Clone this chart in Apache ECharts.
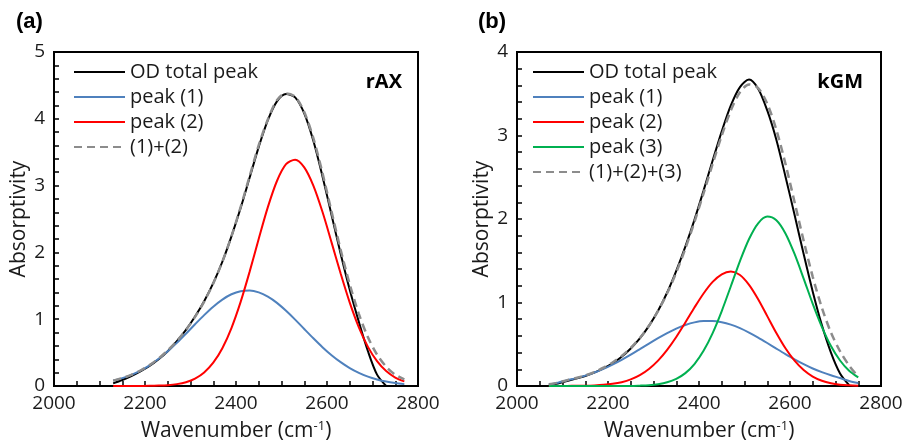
<!DOCTYPE html>
<html>
<head>
<meta charset="utf-8">
<script src="https://cdn.jsdelivr.net/npm/echarts@6/dist/echarts.min.js"></script>
<style>
  html, body { margin: 0; padding: 0; background: #fff; }
  #chart { width: 904px; height: 441px; }
</style>
</head>
<body>
<div id="chart"></div>
<script>
// panel (a) rAX
var wnA = [2130,2150,2170,2190,2210,2230,2250,2270,2290,2310,2330,2350,2370,2390,2410,2430,2450,2470,2490,2510,2530,2550,2570,2590,2610,2630,2650,2670,2690,2710,2730,2750,2770];
var totalA = [0.04,0.09,0.15,0.22,0.30,0.40,0.52,0.67,0.84,1.04,1.27,1.54,1.86,2.24,2.66,3.12,3.58,3.98,4.26,4.37,4.32,4.08,3.67,3.14,2.56,1.98,1.44,0.96,0.52,0.17,0,null,null];
var peak1A = [0.081,0.118,0.167,0.231,0.310,0.407,0.520,0.646,0.783,0.924,1.061,1.187,1.294,1.373,1.419,1.429,1.401,1.337,1.244,1.126,0.994,0.853,0.714,0.581,0.461,0.357,0.268,0.197,0.140,0.098,0.066,0.044,0.028];
var peak2A = [0,0,0,0.001,0.002,0.006,0.013,0.028,0.057,0.111,0.203,0.349,0.566,0.868,1.255,1.712,2.205,2.678,3.069,3.320,3.388,3.273,3.000,2.608,2.150,1.683,1.248,0.878,0.586,0.371,0.223,0.127,0.069];
var sumA = [0.081,0.118,0.167,0.232,0.312,0.413,0.533,0.674,0.840,1.035,1.264,1.536,1.860,2.241,2.674,3.141,3.606,3.99,4.28,4.38,4.33,4.10,3.71,3.19,2.61,2.04,1.52,1.08,0.73,0.47,0.29,0.17,0.10];

// panel (b) kGM
var wnB = [2070,2090,2110,2130,2150,2170,2190,2210,2230,2250,2270,2290,2310,2330,2350,2370,2390,2410,2430,2450,2470,2490,2510,2530,2550,2570,2590,2610,2630,2650,2670,2690,2710,2730,2750];
var totalB = [0.01,0.03,0.06,0.09,0.12,0.16,0.21,0.27,0.35,0.45,0.57,0.72,0.90,1.12,1.38,1.67,1.99,2.34,2.70,3.05,3.36,3.58,3.67,3.56,3.30,2.95,2.51,2.05,1.58,1.13,0.73,0.40,0.15,0.01,null];
var peak1B = [0.02,0.04,0.069,0.094,0.124,0.161,0.205,0.256,0.313,0.375,0.441,0.508,0.573,0.634,0.688,0.731,0.762,0.778,0.778,0.764,0.735,0.693,0.640,0.580,0.515,0.448,0.382,0.319,0.262,0.210,0.166,0.128,0.095,0.060,0.035];
var peak2B = [0,0,0.001,0.002,0.003,0.007,0.014,0.026,0.046,0.079,0.130,0.204,0.304,0.433,0.587,0.761,0.940,1.108,1.247,1.338,1.370,1.329,1.211,1.039,0.837,0.635,0.452,0.303,0.191,0.113,0.063,0.033,0.016,0.008,0.003];
var peak3B = [0,0,0,0,0,0,0,0,0,0,0.004,0.010,0.022,0.044,0.085,0.154,0.263,0.421,0.634,0.898,1.195,1.496,1.761,1.949,2.029,1.985,1.827,1.581,1.287,0.984,0.709,0.479,0.305,0.182,0.103];
var sumB = [0.02,0.04,0.07,0.096,0.127,0.168,0.219,0.282,0.359,0.455,0.575,0.722,0.899,1.111,1.360,1.646,1.965,2.307,2.659,3.000,3.300,3.518,3.612,3.568,3.381,3.068,2.661,2.203,1.740,1.307,0.938,0.640,0.416,0.245,0.110];

var xTicks = [2000, 2800, 200];
var yMaxA = 5, yMaxB = 4;

function pairs(xs, ys) {
    var out = [];
    for (var i = 0; i < xs.length; i++) {
        out.push([xs[i], ys[i]]);
    }
    return out;
}

var font = 'Open Sans';
var txt = '#1a1a1a';

function xAxisFor(idx) {
    return {
        gridIndex: idx,
        type: 'value',
        min: xTicks[0], max: xTicks[1], interval: xTicks[2],
        name: 'Wavenumber (cm{sup|-1})',
        nameLocation: 'middle',
        nameGap: 34,
        nameTextStyle: {
            fontFamily: font, fontSize: 21, color: txt,
            rich: { sup: { fontFamily: font, fontSize: 13, color: txt, verticalAlign: 'top', padding: [0, 0, 9, 0] } }
        },
        axisLine: { onZero: false, lineStyle: { color: '#000', width: 2 } },
        axisTick: { inside: true, length: 5, lineStyle: { color: '#000', width: 1.5 } },
        minorTick: { show: true, splitNumber: 4, length: 5, lineStyle: { color: '#000', width: 1.5 } },
        splitLine: { show: false },
        axisLabel: { fontFamily: font, fontSize: 19, color: txt, margin: 8, formatter: function (v) { return String(v); } }
    };
}

function yAxisFor(idx, max) {
    return {
        gridIndex: idx,
        type: 'value',
        min: 0, max: max, interval: 1,
        name: 'Absorptivity',
        nameLocation: 'middle',
        nameGap: 24,
        nameTextStyle: { fontFamily: font, fontSize: 21, color: txt },
        axisLine: { onZero: false, lineStyle: { color: '#000', width: 2 } },
        axisTick: { inside: true, length: 5, lineStyle: { color: '#000', width: 1.5 } },
        minorTick: { show: true, splitNumber: 5, length: 5, lineStyle: { color: '#000', width: 1.5 } },
        splitLine: { show: false },
        axisLabel: { fontFamily: font, fontSize: 19, color: txt, margin: 9 }
    };
}

function line(name, idx, xs, ys, color, dashed) {
    return {
        name: name,
        type: 'line',
        xAxisIndex: idx, yAxisIndex: idx,
        data: pairs(xs, ys),
        showSymbol: false,
        symbol: 'none',
        smooth: 0.3,
        connectNulls: false,
        lineStyle: dashed ? { color: color, width: 2.5, type: [8, 5] } : { color: color, width: 2 },
        itemStyle: { color: color },
        z: dashed ? 5 : 3
    };
}

var legendStyle = {
    orient: 'vertical',
    top: 62,
    padding: 0,
    itemWidth: 51,
    itemHeight: 2,
    itemGap: 5,
    selectedMode: false,
    itemStyle: { opacity: 0 },
    textStyle: { fontFamily: font, fontSize: 20, color: txt, lineHeight: 20, padding: [0, 0, 0, 0] }
};

var myChart = echarts.init(document.getElementById('chart'));
var option = {
    animation: false,
    backgroundColor: '#fff',
    title: [
        { text: '(a)', left: 16, top: 11, padding: 0, textStyle: { fontFamily: 'Liberation Sans', fontWeight: 'bold', fontSize: 22, color: '#000' } },
        { text: '(b)', left: 478, top: 11, padding: 0, textStyle: { fontFamily: 'Liberation Sans', fontWeight: 'bold', fontSize: 22, color: '#000' } },
        { text: 'rAX', right: 502, top: 72, padding: 0, textStyle: { fontFamily: font, fontWeight: 'bold', fontSize: 20, color: '#000' } },
        { text: 'kGM', right: 41, top: 72, padding: 0, textStyle: { fontFamily: font, fontWeight: 'bold', fontSize: 20, color: '#000' } }
    ],
    legend: [
        Object.assign({ left: 73, data: ['OD total peak', 'peak (1)', 'peak (2)', '(1)+(2)'] }, legendStyle),
        Object.assign({ left: 532, data: ['OD total peak', 'peak (1)', 'peak (2)', 'peak (3)', '(1)+(2)+(3)'] }, legendStyle)
    ],
    grid: [
        { left: 54, right: 486, top: 52, bottom: 55, show: true, borderColor: '#000', borderWidth: 2, containLabel: false, outerBoundsMode: 'none' },
        { left: 517, right: 23, top: 52, bottom: 55, show: true, borderColor: '#000', borderWidth: 2, containLabel: false, outerBoundsMode: 'none' }
    ],
    xAxis: [xAxisFor(0), xAxisFor(1)],
    yAxis: [yAxisFor(0, yMaxA), yAxisFor(1, yMaxB)],
    series: [
        line('OD total peak', 0, wnA, totalA, '#000000', false),
        line('peak (1)', 0, wnA, peak1A, '#4f81bd', false),
        line('peak (2)', 0, wnA, peak2A, '#ff0000', false),
        line('(1)+(2)', 0, wnA, sumA, '#8c8c8c', true),
        line('OD total peak', 1, wnB, totalB, '#000000', false),
        line('peak (1)', 1, wnB, peak1B, '#4f81bd', false),
        line('peak (2)', 1, wnB, peak2B, '#ff0000', false),
        line('peak (3)', 1, wnB, peak3B, '#00b050', false),
        line('(1)+(2)+(3)', 1, wnB, sumB, '#8c8c8c', true)
    ]
};
myChart.setOption(option);
</script>
</body>
</html>
